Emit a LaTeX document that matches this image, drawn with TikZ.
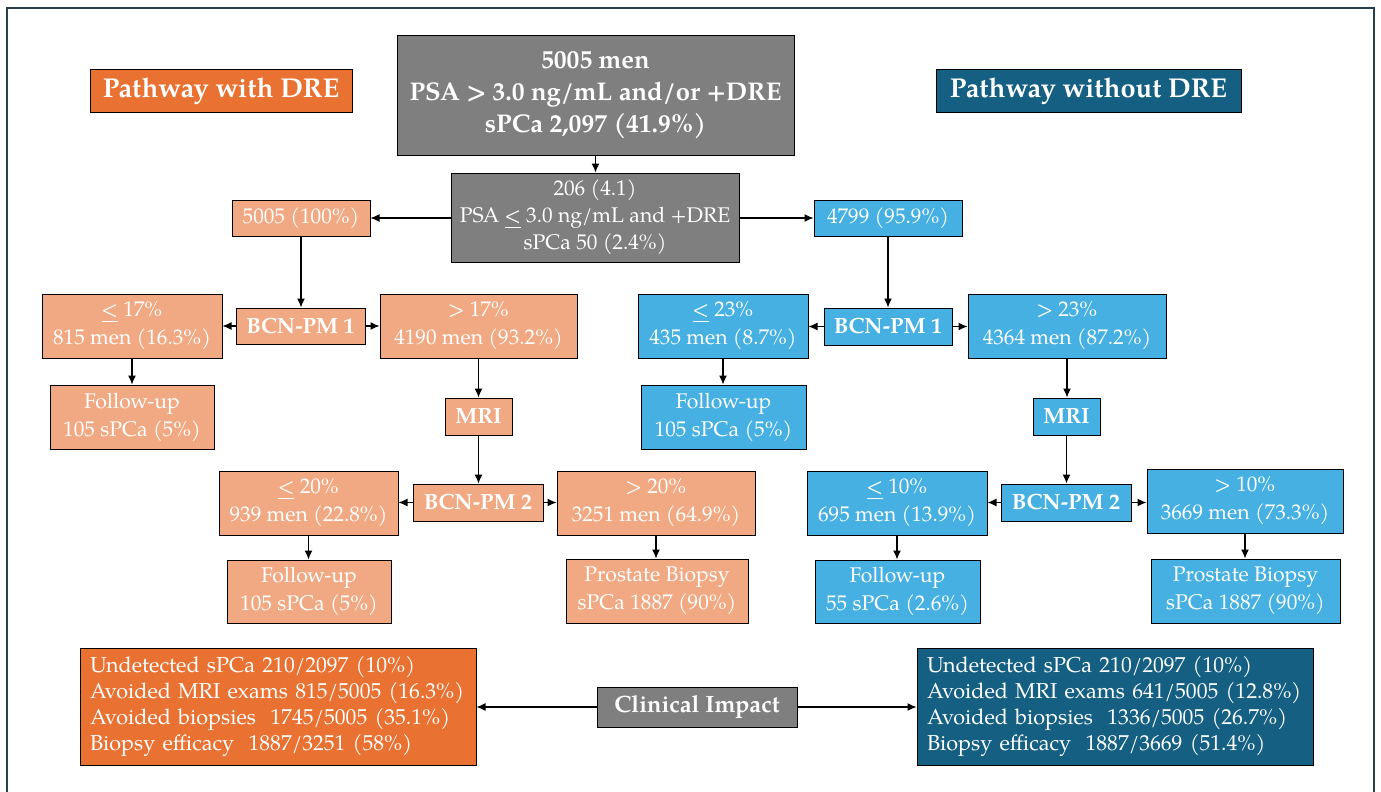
\documentclass[tikz,border=0pt]{standalone}
\usepackage{fontspec}
\setmainfont{TeX Gyre Pagella}
\usetikzlibrary{arrows.meta}
\definecolor{cgray}{HTML}{7F7F7F}
\definecolor{corange}{HTML}{E97132}
\definecolor{clorange}{HTML}{F1A983}
\definecolor{cblue}{HTML}{45B0E1}
\definecolor{cteal}{HTML}{156082}
\definecolor{cframe}{HTML}{27404F}
\newcommand{\lte}{\underline{<}}
\tikzset{
  box/.style={draw=black, line width=0.5pt, text=white, align=center, inner sep=0pt, font=\fontsize{10.6pt}{14pt}\selectfont},
  bbox/.style={box, font=\fontsize{11pt}{14pt}\selectfont\bfseries},
  gbox/.style={box, fill=cgray},
  lo/.style={box, fill=clorange},
  lob/.style={bbox, fill=clorange},
  bl/.style={box, fill=cblue},
  blb/.style={bbox, fill=cblue},
  arr/.style={draw=black, line width=0.6pt, -{Latex[length=4.5pt,width=4pt]}},
  impact/.style={box, align=left, text width=188pt, inner xsep=5pt, font=\fontsize{10.8pt}{13pt}\selectfont},
  wh/.style 2 args={minimum width=#1*0.5pt, minimum height=#2*0.5pt}
}
\begin{document}
\begin{tikzpicture}[x=0.5pt, y=-0.5pt]
\useasboundingbox (0,0) rectangle (1381,792);
\fill[white] (0,0) rectangle (1381,792);
\draw[cframe, line width=0.9pt] (7,820) -- (7,8) -- (1374,8) -- (1374,820);

% top
\node[gbox, wh={397}{119}, font=\fontsize{12.8pt}{16pt}\selectfont\bfseries] (title) at (595.5,95.5) {5005 men\\PSA > 3.0 ng/mL and/or +DRE\\sPCa 2,097 (41.9\%)};
\node[box, fill=corange, wh={262}{43}, font=\fontsize{13.6pt}{15pt}\selectfont\bfseries] (pwith) at (221,91.5) {Pathway with DRE};
\node[box, fill=cteal, wh={305}{43}, font=\fontsize{13.6pt}{15pt}\selectfont\bfseries] (pwithout) at (1088.5,91.5) {Pathway without DRE};
\node[gbox, wh={288}{89}, font=\fontsize{10.6pt}{13.5pt}\selectfont] (g2) at (595,217.5) {206 (4.1)\\PSA \lte{} 3.0 ng/mL and +DRE\\sPCa 50 (2.4\%)};
\node[lo, wh={138}{36}] (L0) at (301,218) {5005 (100\%)};
\node[bl, wh={148}{36}] (R0) at (888,218) {4799 (95.9\%)};

% left pathway
\node[lob, wh={129}{36}] (LB1) at (300.5,326) {BCN-PM 1};
\node[lo, wh={180}{64}] (LL1) at (132,326) {\lte{} 17\%\\815 men (16.3\%)};
\node[lo, wh={197}{64}] (LR1) at (478.5,326) {> 17\%\\4190 men (93.2\%)};
\node[lo, wh={164}{64}] (LF1) at (132,417) {Follow-up\\105 sPCa (5\%)};
\node[lob, wh={67}{37}] (LM) at (478.5,416.5) {MRI};
\node[lob, wh={130}{37}] (LB2) at (478,502.5) {BCN-PM 2};
\node[lo, wh={179}{64}] (LL2) at (308.5,503) {\lte{} 20\%\\939 men (22.8\%)};
\node[lo, wh={198}{64}] (LR2) at (656,503) {> 20\%\\3251 men (64.9\%)};
\node[lo, wh={164}{63}] (LF2) at (309,591.5) {Follow-up\\105 sPCa (5\%)};
\node[lo, wh={182}{64}] (LP) at (657,591) {Prostate Biopsy\\sPCa 1887 (90\%)};

% right pathway
\node[blb, wh={128}{37}] (RB1) at (888,326.5) {BCN-PM 1};
\node[bl, wh={170}{64}] (RL1) at (723,326) {\lte{} 23\%\\435 men (8.7\%)};
\node[bl, wh={198}{64}] (RR1) at (1067,326) {> 23\%\\4364 men (87.2\%)};
\node[bl, wh={165}{64}] (RF1) at (723.5,417) {Follow-up\\105 sPCa (5\%)};
\node[blb, wh={67}{37}] (RM) at (1066.5,416.5) {MRI};
\node[blb, wh={130}{37}] (RB2) at (1066,502.5) {BCN-PM 2};
\node[bl, wh={180}{64}] (RL2) at (897,503) {\lte{} 10\%\\695 men (13.9\%)};
\node[bl, wh={196}{64}] (RR2) at (1245,501) {> 10\%\\3669 men (73.3\%)};
\node[bl, wh={165}{63}] (RF2) at (897.5,591.5) {Follow-up\\55 sPCa (2.6\%)};
\node[bl, wh={189}{64}] (RP) at (1245.5,591) {Prostate Biopsy\\sPCa 1887 (90\%)};

% clinical impact
\node[impact, fill=corange, wh={396}{117}] (LI) at (278,706.5) {Undetected sPCa 210/2097 (10\%)\\Avoided MRI exams 815/5005 (16.3\%)\\Avoided biopsies~ 1745/5005 (35.1\%)\\Biopsy efficacy~ 1887/3251 (58\%)};
\node[gbox, wh={200}{40}, font=\fontsize{11.8pt}{14pt}\selectfont\bfseries] (CI) at (697,707) {Clinical Impact};
\node[impact, fill=cteal, wh={396}{117}] (RI) at (1115,706.5) {Undetected sPCa 210/2097 (10\%)\\Avoided MRI exams 641/5005 (12.8\%)\\Avoided biopsies~ 1336/5005 (26.7\%)\\Biopsy efficacy~ 1887/3669 (51.4\%)};

% connectors
\draw[arr] (title.south) -- (title.south |- g2.north);
\draw[arr] (g2.west |- L0.east) -- (L0.east);
\draw[arr] (g2.east |- R0.west) -- (R0.west);
\draw[arr] (L0.south) -- (L0.south |- LB1.north);
\draw[arr] (R0.south) -- (R0.south |- RB1.north);
\draw[arr] (LB1.west) -- (LB1.west -| LL1.east);
\draw[arr] (LB1.east) -- (LB1.east -| LR1.west);
\draw[arr] (RB1.west) -- (RB1.west -| RL1.east);
\draw[arr] (RB1.east) -- (RB1.east -| RR1.west);
\draw[arr] (LL1.south) -- (LL1.south |- LF1.north);
\draw[arr] (RL1.south) -- (RL1.south |- RF1.north);
\draw[arr] (LR1.south) -- (LR1.south |- LM.north);
\draw[arr] (RR1.south) -- (RR1.south |- RM.north);
\draw[arr] (LM.south) -- (LM.south |- LB2.north);
\draw[arr] (RM.south) -- (RM.south |- RB2.north);
\draw[arr] (LB2.west) -- (LB2.west -| LL2.east);
\draw[arr] (LB2.east) -- (LB2.east -| LR2.west);
\draw[arr] (RB2.west) -- (RB2.west -| RL2.east);
\draw[arr] (RB2.east) -- (RB2.east -| RR2.west);
\draw[arr] (LL2.south) -- (LL2.south |- LF2.north);
\draw[arr] (LR2.south) -- (LR2.south |- LP.north);
\draw[arr] (RL2.south) -- (RL2.south |- RF2.north);
\draw[arr] (RR2.south) -- (RR2.south |- RP.north);
\draw[arr] (CI.west) -- (CI.west -| LI.east);
\draw[arr] (CI.east) -- (CI.east -| RI.west);
\end{tikzpicture}
\end{document}
